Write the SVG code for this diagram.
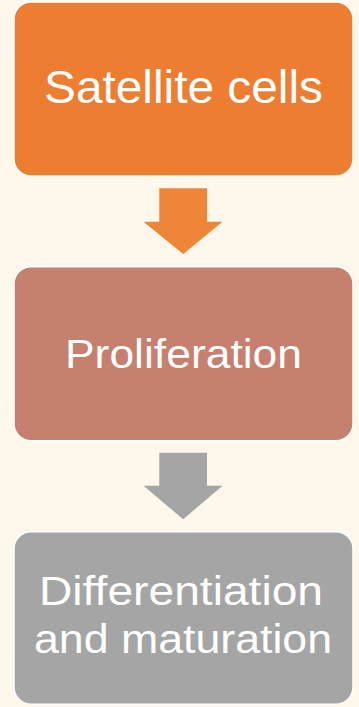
<svg xmlns="http://www.w3.org/2000/svg" width="359" height="707" viewBox="0 0 359 707">
  <style>
    .box { stroke: #ffffff; stroke-width: 1.5; }
    .lbl { font-family: "Liberation Sans", Arial, sans-serif; fill: #ffffff; text-anchor: middle; }
  </style>
  <rect x="0" y="0" width="359" height="707" fill="#FEF8EC"/>
  <g id="connectors">
    <polygon id="arrow1" fill="#EF8536" points="159.3,188.3 207,188.3 207,221.7 222.5,221.7 183.2,254 143.5,221.7 159.3,221.7"/>
    <polygon id="arrow2" fill="#A5A5A5" points="159.3,452.7 207,452.7 207,485.7 222.5,485.7 183.2,519.3 143.5,485.7 159.3,485.7"/>
  </g>
  <g id="node-satellite">
    <rect class="box" x="14" y="2" width="339" height="174" rx="17" fill="#ED7D31"/>
    <text class="lbl" x="183.5" y="103.3" font-size="47" textLength="279" lengthAdjust="spacingAndGlyphs">Satellite cells</text>
  </g>
  <g id="node-proliferation">
    <rect class="box" x="14" y="266.7" width="339" height="174" rx="17" fill="#C5806F"/>
    <text class="lbl" x="183.5" y="367.7" font-size="41" textLength="237" lengthAdjust="spacingAndGlyphs">Proliferation</text>
  </g>
  <g id="node-differentiation">
    <rect class="box" x="14" y="531.7" width="339" height="172.6" rx="17" fill="#A5A5A5"/>
    <text class="lbl" x="181" y="605" font-size="40" textLength="284" lengthAdjust="spacingAndGlyphs">Differentiation</text>
    <text class="lbl" x="183" y="653.3" font-size="40" textLength="298" lengthAdjust="spacingAndGlyphs">and maturation</text>
  </g>
</svg>
